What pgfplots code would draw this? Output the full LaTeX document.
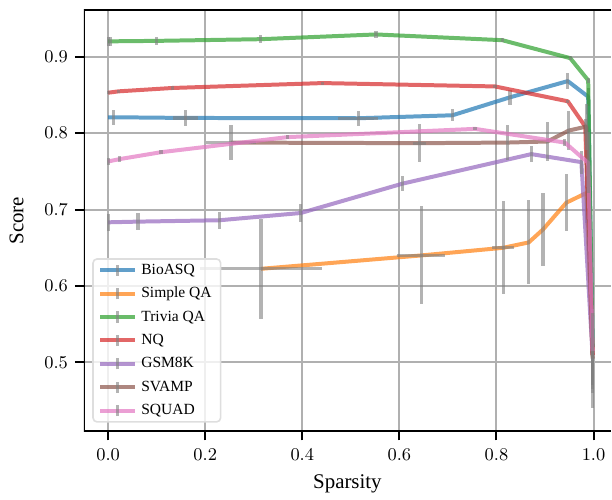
\documentclass[border=0pt]{standalone}
\usepackage{fontspec}
\setmainfont{Liberation Serif}
\usepackage{pgfplots}
\pgfplotsset{compat=1.18}
\definecolor{tblue}{HTML}{1F77B4}
\definecolor{torange}{HTML}{FF7F0E}
\definecolor{tgreen}{HTML}{2CA02C}
\definecolor{tred}{HTML}{D62728}
\definecolor{tpurple}{HTML}{9467BD}
\definecolor{tbrown}{HTML}{8C564B}
\definecolor{tpink}{HTML}{E377C2}
\pgfplotsset{
  ser/.style={draw=#1, draw opacity=0.7, line width=2bp, mark=none, line join=round, solid},
}
\begin{document}
\begin{tikzpicture}
\begin{axis}[
  name=ax,
  scale only axis, width=264bp, height=211bp,
  xmin=-0.05, xmax=1.036, ymin=0.41, ymax=0.961,
  axis line style={draw=none},
  xtick={0,0.2,0.4,0.6,0.8,1.0}, ytick={0.5,0.6,0.7,0.8,0.9},
  xtick pos=left, ytick pos=left,
  tick align=outside, major tick length=4.5bp,
  tick style={black, line width=1bp},
  xticklabel style={font=\fontsize{9.4}{11}\selectfont, yshift=-1bp, /pgf/number format/.cd, fixed, fixed zerofill, precision=1},
  yticklabel style={font=\fontsize{9.4}{11}\selectfont, /pgf/number format/.cd, fixed, fixed zerofill, precision=1},
  grid=major, grid style={color=black!31, line width=1bp},
  xlabel={Sparsity}, ylabel={Score},
  ylabel shift=3.5bp, xlabel shift=0bp,
  label style={font=\fontsize{10.5}{12}\selectfont},
  error bars/x dir=both, error bars/x explicit,
  error bars/y dir=both, error bars/y explicit,
  error bars/error mark=none,
  error bars/error bar style={line width=1.6bp, draw=gray, draw opacity=0.6, solid},
  legend cell align=left,
  legend image code/.code={
    \draw[#1, line width=2bp] (0bp,0bp) -- (17.7bp,0bp);
    \draw[draw=gray, draw opacity=0.6, line width=1.6bp] (8.85bp,-2.8bp) -- (8.85bp,2.8bp);
  },
  legend style={at={(axis description cs:0,0)}, anchor=south west, xshift=4.2bp, yshift=4.3bp,
    draw=black!13, line width=0.8bp, rounded corners=2bp, fill=white, fill opacity=0.8,
    draw opacity=1, text opacity=1, font=\fontsize{7.8}{9}\selectfont, row sep=0.9bp,
    nodes={text height=5.4bp, text depth=1.4bp, inner ysep=2bp},
    inner xsep=2.5bp, inner ysep=0.3bp},
]
% BioASQ
\addplot[ser=tblue] coordinates {
(0.0,0.8207) +- (0,0)
(0.011,0.8207) +- (0,0.010)
(0.159,0.8198) +- (0.026,0.010)
(0.515,0.8194) +- (0.041,0.010)
(0.7095,0.8233) +- (0,0.008)
(0.828,0.8468) +- (0,0.010)
(0.947,0.868) +- (0,0.010)
(0.989,0.8476) +- (0,0.012)
(0.998,0.52) +- (0,0.05)
};
\addlegendentry{BioASQ}
% Simple QA
\addplot[ser=torange] coordinates {
(0.315,0.6225) +- (0.126,0.065)
(0.645,0.640) +- (0.05,0.064)
(0.814,0.650) +- (0.023,0.061)
(0.8665,0.657) +- (0,0.055)
(0.896,0.674) +- (0,0.048)
(0.944,0.709) +- (0,0.037)
(0.985,0.7216) +- (0,0.039)
(0.998,0.51) +- (0,0.04)
};
\addlegendentry{Simple QA}
% Trivia QA
\addplot[ser=tgreen] coordinates {
(0.0,0.920) +- (0,0.006)
(0.005,0.920) +- (0,0.006)
(0.10,0.9206) +- (0,0.005)
(0.314,0.9228) +- (0,0.005)
(0.552,0.929) +- (0,0.005)
(0.812,0.9215) +- (0,0.003)
(0.952,0.898) +- (0,0.003)
(0.989,0.869) +- (0,0.003)
(0.998,0.52) +- (0,0.05)
};
\addlegendentry{Trivia QA}
% NQ
\addplot[ser=tred] coordinates {
(0.0,0.8528) +- (0,0.002)
(0.022,0.8546) +- (0,0.002)
(0.133,0.859) +- (0,0.002)
(0.442,0.8654) +- (0,0.002)
(0.797,0.861) +- (0,0.002)
(0.947,0.8416) +- (0,0.002)
(0.983,0.8085) +- (0,0.01)
(0.998,0.51) +- (0,0.05)
};
\addlegendentry{NQ}
% GSM8K
\addplot[ser=tpurple] coordinates {
(0.0,0.6833) +- (0,0.011)
(0.0615,0.6842) +- (0,0.011)
(0.2296,0.686) +- (0,0.011)
(0.397,0.6955) +- (0,0.012)
(0.606,0.7338) +- (0,0.01)
(0.872,0.7725) +- (0,0.01)
(0.975,0.762) +- (0,0.015)
(0.998,0.51) +- (0,0.04)
};
\addlegendentry{GSM8K}
% SVAMP
\addplot[ser=tbrown] coordinates {
(0.253,0.7876) +- (0.052,0.023)
(0.6416,0.7868) +- (0.014,0.025)
(0.8225,0.7876) +- (0,0.023)
(0.905,0.789) +- (0,0.026)
(0.949,0.8033) +- (0,0.025)
(0.985,0.8085) +- (0,0.03)
(0.998,0.505) +- (0,0.065)
};
\addlegendentry{SVAMP}
% SQUAD
\addplot[ser=tpink] coordinates {
(0.0,0.7629) +- (0,0.005)
(0.024,0.766) +- (0,0.004)
(0.109,0.775) +- (0,0.003)
(0.369,0.7947) +- (0,0.003)
(0.756,0.8055) +- (0,0.002)
(0.941,0.7876) +- (0,0.005)
(0.989,0.761) +- (0,0.04)
(0.998,0.515) +- (0,0.05)
};
\addlegendentry{SQUAD}
\draw[black, line width=1bp] (rel axis cs:1,1) -- (rel axis cs:0,1) -- (rel axis cs:0,0) -- (rel axis cs:1,0);
\end{axis}
\path ([yshift=5bp]ax.north west) ([xshift=-42bp, yshift=-30.5bp]ax.south west);
\end{tikzpicture}
\end{document}
